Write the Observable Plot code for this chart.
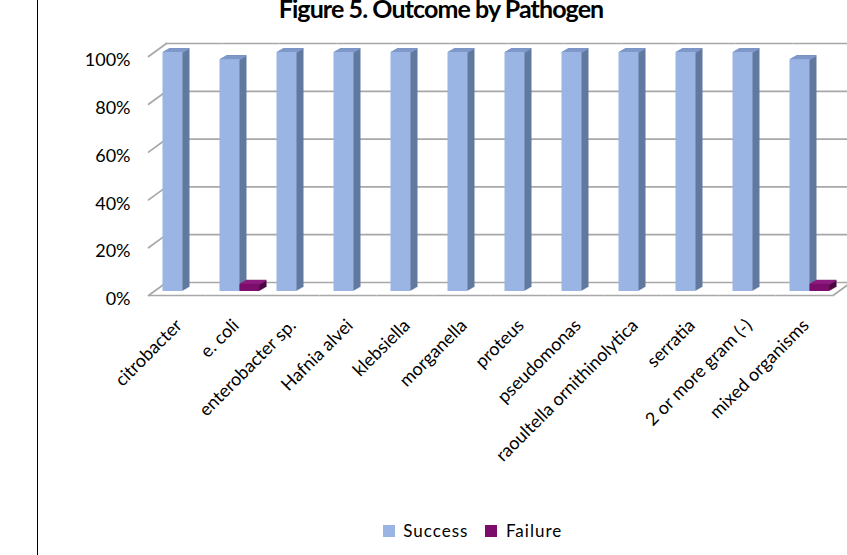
<!DOCTYPE html>
<html>
<head>
<meta charset="utf-8">
<script src="https://cdn.jsdelivr.net/npm/d3@7"></script>
<script src="https://cdn.jsdelivr.net/npm/@observablehq/plot@0.6"></script>
<style>
  html, body { margin: 0; padding: 0; background: #fff; }
  #page { position: relative; width: 847px; height: 555px; overflow: hidden; background: #fff; font-family: Lato, "Open Sans", sans-serif; }
  #edge { position: absolute; left: 37px; top: 0; width: 1px; height: 555px; background: #000; }
  #title { position: absolute; left: 0; top: -4px; width: 882px; text-align: center; font: bold 25px/25px Lato, sans-serif; letter-spacing: -0.9px; color: #000; white-space: nowrap; }
  #chart { position: absolute; left: 0; top: 0; }
  #legend { position: absolute; left: 0; top: 514px; width: 962px; display: flex; justify-content: center; }
</style>
</head>
<body>
<div id="page">
  <div id="edge"></div>
  <div id="title">Figure 5. Outcome by Pathogen</div>
  <div id="chart"></div>
  <div id="legend"></div>
</div>
<script>
// Outcome share (%) for each pathogen group
const categories = [
  "citrobacter", "e. coli", "enterobacter sp.", "Hafnia alvei", "klebsiella",
  "morganella", "proteus", "pseudomonas", "raoultella ornithinolytica",
  "serratia", "2 or more gram (-)", "mixed organisms"
];
const successPct = [100, 97, 100, 100, 100, 100, 100, 100, 100, 100, 100, 97];
const failurePct = [0, 3, 0, 0, 0, 0, 0, 0, 0, 0, 0, 3];
const outcomes = ["Success", "Failure"];
const yTicks = [0, 20, 40, 60, 80, 100];

// colours for the faces of each extruded column
const frontColor = {Success: "#9ab5e3", Failure: "#7d0d6d"};
const sideColor = {Success: "#62799f", Failure: "#4b0742"};
const topColor = {Success: "#7f98c9", Failure: "#8e1b80"};
const gridColor = "#a8a8a8";

const rows = categories.flatMap((category, i) => [
  {category, outcome: "Success", pct: successPct[i]},
  {category, outcome: "Failure", pct: failurePct[i]}
]);
const shown = rows.filter(d => d.pct > 0);

// depth of the columns, in pixel steps
const depthSteps = [1, 2, 3, 4, 5, 6, 7];
const depthRise = 4 / 7;

// a plain stroke for the oblique wall/floor edges
const edgeLine = {draw(context, l) { context.moveTo(0, 0); context.lineTo(0, -l); }};

const sideMarks = [];
const topMarks = [];
for (const outcome of outcomes) {
  const data = shown.filter(d => d.outcome === outcome);
  for (const k of depthSteps) {
    sideMarks.push(Plot.barY(data, {fx: "category", x: "outcome", y: "pct", fill: sideColor[outcome], dx: k, dy: -k * depthRise}));
  }
  for (const k of depthSteps) {
    topMarks.push(Plot.tickY(data, {fx: "category", x: "outcome", y: "pct", stroke: topColor[outcome], strokeWidth: 1.3, dx: k - 0.5, dy: -(k - 0.5) * depthRise}));
  }
}

const colorScale = {domain: outcomes, range: [frontColor.Success, frontColor.Failure]};

const chart = Plot.plot({
  width: 847,
  height: 480,
  marginLeft: 153.5,
  marginRight: 9.5,
  marginTop: 52,
  marginBottom: 189,
  style: {fontFamily: "Lato, sans-serif", fontSize: "18px", color: "#000", background: "transparent"},
  fx: {domain: categories, padding: 0, label: null},
  x: {domain: outcomes, paddingInner: 0, paddingOuter: 0.39, axis: null},
  y: {domain: [0, 100], axis: null, label: null},
  color: colorScale,
  marks: [
    // back wall gridlines
    Plot.ruleY(yTicks, {stroke: gridColor, strokeWidth: 1.7, dx: 11.5, dy: -9}),
    // oblique ticks on the left side of the floor/wall
    Plot.vector(yTicks, {fx: () => categories[0], y: d => d, frameAnchor: "left", length: 22.2, rotate: 54, anchor: "start", shape: edgeLine, stroke: gridColor, strokeWidth: 1.7, dx: -6, dy: 4}),
    // front edge of the floor
    Plot.ruleY([0], {stroke: gridColor, strokeWidth: 1.7, dx: -5.5, dy: 4}),
    Plot.vector([0], {fx: () => categories[categories.length - 1], y: d => d, frameAnchor: "right", length: 22.2, rotate: 54, anchor: "start", shape: edgeLine, stroke: gridColor, strokeWidth: 1.7, dx: -5.5, dy: 4}),
    ...sideMarks,
    ...topMarks,
    Plot.barY(shown, {fx: "category", x: "outcome", y: "pct", fill: "outcome"}),
    Plot.axisY(yTicks, {anchor: "left", tickSize: 0, tickPadding: 24, tickFormat: d => d + "%", fontSize: 18, label: null, dy: 8}),
    Plot.axisFx({anchor: "bottom", tickSize: 0, tickPadding: 31, tickRotate: -45, fontSize: 18, label: null, dx: -4})
  ]
});
document.getElementById("chart").appendChild(chart);

const legend = Plot.legend({
  color: colorScale,
  legend: "swatches",
  swatchSize: 12,
  style: {fontFamily: "Lato, sans-serif", fontSize: "17px", letterSpacing: "1px", color: "#000"}
});
document.getElementById("legend").appendChild(legend);
</script>
</body>
</html>
